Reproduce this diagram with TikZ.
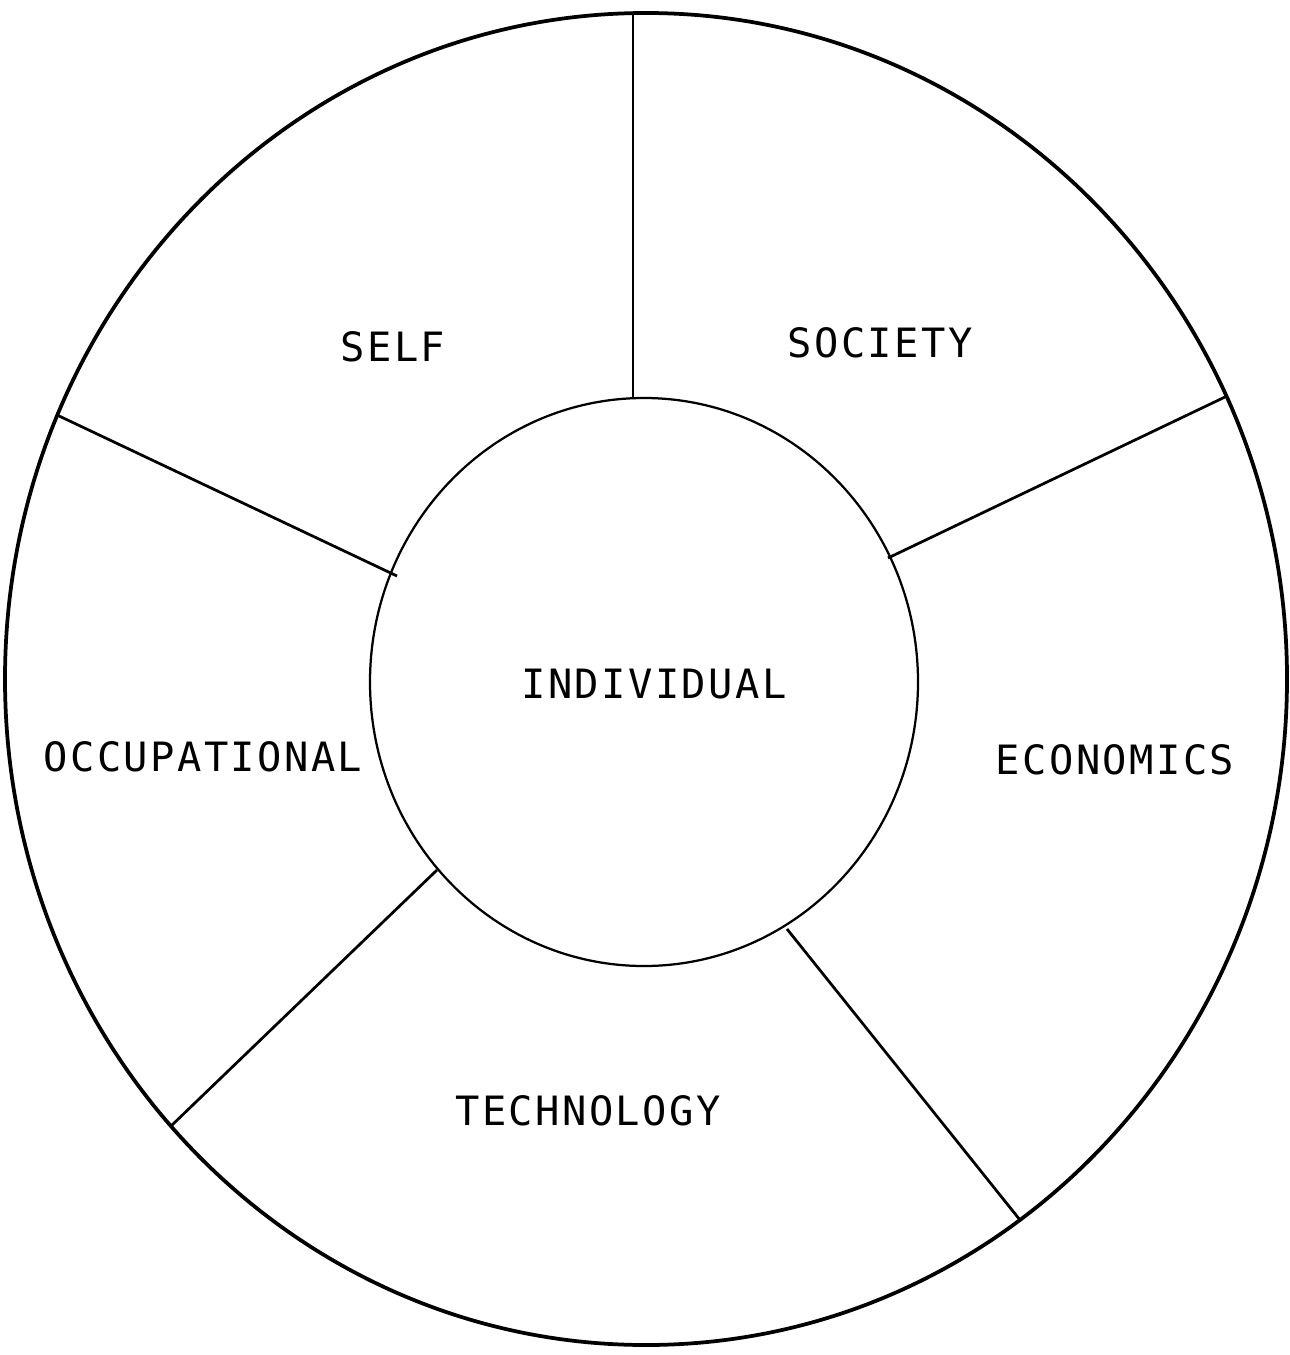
\documentclass[tikz,border=0pt]{standalone}
\usepackage{fontspec}
\newfontfamily\typefont[LetterSpace=6]{DejaVu Sans Mono}

\begin{document}
\begin{tikzpicture}[x = 0.02cm, y = -0.02cm,
		ring/.style = {line width = 0.075cm},
		spoke/.style = {line width = 0.055cm},
		sector/.style = {font = \typefont\fontsize{23}{26}\selectfont, inner sep = 0pt}]
			\useasboundingbox (0, 0) rectangle (1289, 1355);
			%\draw[help lines, step = 100] (0, 0) grid (1289, 1355);
			
			% outer ring and the core
			\draw[ring] (646, 679) ellipse [x radius = 641, y radius = 666];
			\draw[line width = 0.045cm] (644, 682) ellipse [x radius = 274, y radius = 284];
			
			% five dividers between the outer sectors
			\draw[spoke] (633, 14) -- (633, 398);
			\draw[spoke] (888, 558) -- (1225, 397);
			\draw[spoke] (787, 929) -- (1020, 1220);
			\draw[spoke] (437, 870) -- (171, 1126);
			\draw[spoke] (397, 576) -- (57, 415);
			
			\node[sector] (core) at (654, 684) {INDIVIDUAL};
			\node[sector] (self) at (393, 347) {SELF};
			\node[sector] (society) at (880, 343) {SOCIETY};
			\node[sector] (economics) at (1115, 760) {ECONOMICS};
			\node[sector] (technology) at (588, 1111) {TECHNOLOGY};
			\node[sector] (occupational) at (203, 757) {OCCUPATIONAL};
			
		\end{tikzpicture}
\end{document}
